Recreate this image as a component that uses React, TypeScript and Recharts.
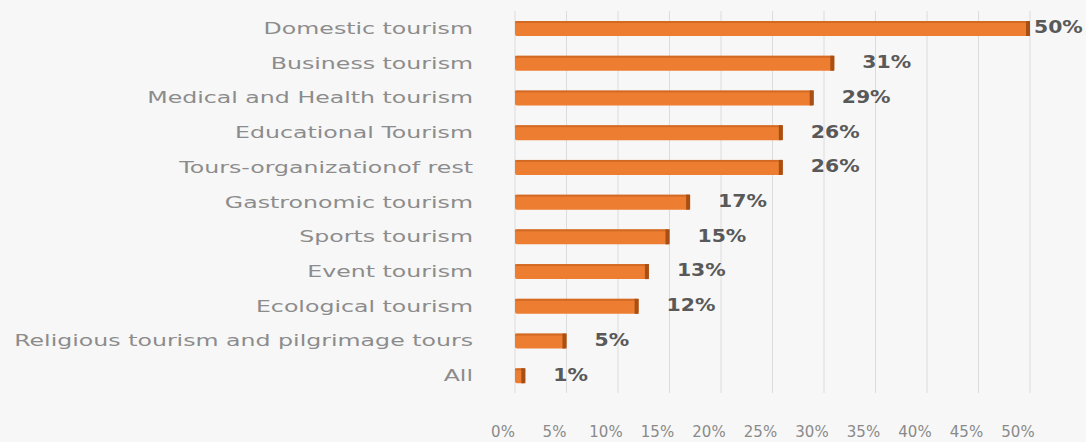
import { Bar, BarChart, CartesianGrid, LabelList, XAxis, YAxis } from "recharts";

const categories = [
  "Domestic tourism",
  "Business tourism",
  "Medical and Health tourism",
  "Educational Tourism",
  "Tours-organizationof rest",
  "Gastronomic tourism",
  "Sports tourism",
  "Event tourism",
  "Ecological tourism",
  "Religious tourism and pilgrimage tours",
  "All",
];
const shares = [50, 31, 29, 26, 26, 17, 15, 13, 12, 5, 1];
const xTicks = [0, 5, 10, 15, 20, 25, 30, 35, 40, 45, 50];

const data = categories.map((name, i) => ({ name, value: shares[i] }));

const FONT = "'DejaVu Sans', sans-serif";
const CHART_W = 1086;

function CategoryTick({ x, y, payload }: any) {
  return (
    <g transform={`translate(${x},${y})`}>
      <text
        textAnchor="end"
        dominantBaseline="central"
        transform="scale(1.48,1)"
        fill="#8c8c8c"
        fontSize={16}
        fontFamily={FONT}
      >
        {payload.value}
      </text>
    </g>
  );
}

// the 3D floor pushes the tick labels a little left of the grid lines
function PercentTick({ x, y, payload }: any) {
  return (
    <text x={x - 12} y={y} dy="0.71em" textAnchor="middle" fill="#8a8a8a" fontSize={15} fontFamily={FONT}>
      {`${payload.value}%`}
    </text>
  );
}

function ValueLabel({ x, y, width, height, value }: any) {
  // keep the label inside the picture (about 50px wide)
  const lx = Math.min(x + width + 28, CHART_W - 52);
  return (
    <g transform={`translate(${lx},${y + height / 2 - 1})`}>
      <text
        dominantBaseline="central"
        transform="scale(1.2,1)"
        fill="#595959"
        fontSize={17}
        fontWeight="bold"
        fontFamily={FONT}
      >
        {`${value}%`}
      </text>
    </g>
  );
}

function Bar3D({ x, y, width, height }: any) {
  if (!width || width <= 0) return null;
  const cap = Math.min(4, width / 2);
  return (
    <g>
      <rect x={x} y={y} width={width} height={height} rx={2} fill="#ED7D31" />
      <rect x={x} y={y} width={width} height={2} fill="#c25e1c" opacity={0.6} />
      <rect x={x + width - cap} y={y} width={cap} height={height} fill="#a84f14" />
    </g>
  );
}

export default function App() {
  return (
    <div style={{ width: CHART_W, height: 442, background: "#f7f7f7" }}>
      <style>{`body{margin:0}`}</style>
      <BarChart
        width={CHART_W}
        height={442}
        data={data}
        layout="vertical"
        margin={{ top: 11, right: 56, bottom: 0, left: 0 }}
        barCategoryGap={0}
      >
        <CartesianGrid vertical horizontal={false} stroke="#dcdcdc" />
        <XAxis
          type="number"
          domain={[0, 50]}
          ticks={xTicks}
          axisLine={false}
          tickLine={false}
          tickMargin={27}
          height={49}
          tick={<PercentTick />}
        />
        <YAxis
          type="category"
          dataKey="name"
          width={515}
          axisLine={false}
          tickLine={false}
          tickMargin={36}
          interval={0}
          tick={<CategoryTick />}
        />
        <Bar dataKey="value" barSize={15} shape={<Bar3D />} isAnimationActive={false}>
          <LabelList dataKey="value" content={<ValueLabel />} />
        </Bar>
      </BarChart>
    </div>
  );
}
